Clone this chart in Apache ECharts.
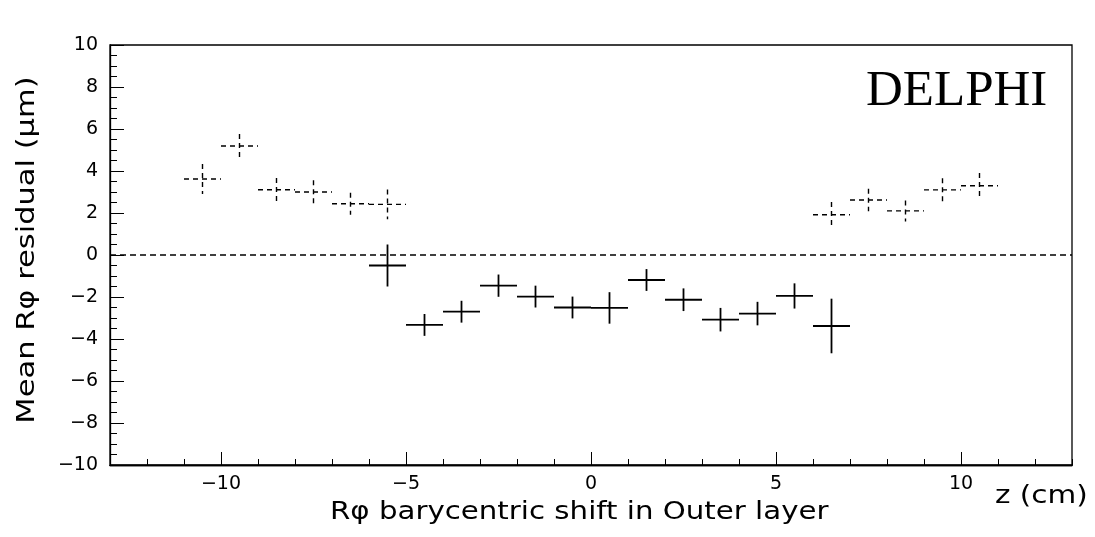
<!DOCTYPE html>
<html>
<head>
<meta charset="utf-8">
<script src="https://cdn.jsdelivr.net/npm/echarts@6/dist/echarts.min.js"></script>
</head>
<body style="margin:0;background:#fff">
<div id="main" style="width:1095px;height:537px"></div>
<script>
// dashed series (outer points)
var dashX = [-10.5, -9.5, -8.5, -7.5, -6.5, -5.5, 6.5, 7.5, 8.5, 9.5, 10.5];
var dashY = [3.62, 5.19, 3.11, 3.0, 2.44, 2.41, 1.92, 2.62, 2.1, 3.1, 3.3];
var dashErr = [0.71, 0.57, 0.56, 0.56, 0.52, 0.71, 0.6, 0.54, 0.5, 0.55, 0.6];
// solid series
var solX = [-5.5, -4.5, -3.5, -2.5, -1.5, -0.5, 0.5, 1.5, 2.5, 3.5, 4.5, 5.5, 6.5];
var solY = [-0.5, -3.33, -2.7, -1.46, -1.98, -2.5, -2.52, -1.19, -2.13, -3.08, -2.79, -1.95, -3.38];
var solErr = [1.0, 0.52, 0.52, 0.53, 0.52, 0.52, 0.75, 0.52, 0.54, 0.56, 0.56, 0.6, 1.3];
var xTicks = [-10, -5, 0, 5, 10];
var halfW = 0.5;

function build(xs, ys, es) {
    var d = [];
    for (var i = 0; i < xs.length; i++) d.push([xs[i], ys[i], es[i]]);
    return d;
}
function crossRender(dashed) {
    return function (params, api) {
        var x = api.value(0), y = api.value(1), e = api.value(2);
        var l = api.coord([x - halfW, y]), r = api.coord([x + halfW, y]);
        var t = api.coord([x, y + e]), b = api.coord([x, y - e]);
        var st = {stroke: '#000', lineWidth: dashed ? 1.4 : 1.8, lineDash: dashed ? [5, 4] : null};
        return {type: 'group', children: [
            {type: 'line', shape: {x1: l[0], y1: l[1], x2: r[0], y2: r[1]}, style: st},
            {type: 'line', shape: {x1: t[0], y1: t[1], x2: b[0], y2: b[1]}, style: st}
        ]};
    };
}
var fmt = function (v) { return String(v).replace('-', '\u2212'); };
var font = 'DejaVu Sans';

var myChart = echarts.init(document.getElementById('main'));
myChart.setOption({
    animation: false,
    grid: {left: 110, right: 23, top: 45, bottom: 72, show: true, borderColor: '#000', borderWidth: 1.3},
    xAxis: [{
        type: 'value', min: -13, max: 13, position: 'bottom',
        axisLine: {onZero: false, lineStyle: {color: '#000', width: 1.3}},
        axisTick: {inside: true, length: 13, customValues: xTicks, lineStyle: {color: '#000'}},
        splitLine: {show: false},
        axisLabel: {color: '#000', fontSize: 19, fontFamily: font, margin: 10, customValues: xTicks, formatter: fmt}
    }, {
        type: 'value', min: -13, max: 13, interval: 1, position: 'bottom', offset: 0,
        axisLine: {onZero: false, lineStyle: {color: '#000', width: 1.3}},
        axisTick: {inside: true, length: 6, lineStyle: {color: '#000'}},
        splitLine: {show: false},
        axisLabel: {show: false}
    }],
    yAxis: {
        type: 'value', min: -10, max: 10, interval: 2,
        axisLine: {onZero: false, lineStyle: {color: '#000', width: 1.3}},
        axisTick: {inside: true, length: 14, lineStyle: {color: '#000'}},
        minorTick: {show: true, splitNumber: 4, length: 7, lineStyle: {color: '#000'}},
        splitLine: {show: false},
        axisLabel: {color: '#000', fontSize: 19, fontFamily: font, margin: 12, formatter: fmt}
    },
    graphic: [
        {type: 'text', left: 866, top: 66, style: {text: 'DELPHI', font: '51px "Liberation Serif"', fill: '#000'}},
        {type: 'text', x: 995, y: 484, scaleX: 1.18, style: {text: 'z (cm)', font: '25px "DejaVu Sans"', fill: '#000'}},
        {type: 'text', x: 330, y: 500, scaleX: 1.17, style: {text: 'R\u03c6 barycentric shift in Outer layer', font: '25px "DejaVu Sans"', fill: '#000'}},
        {type: 'text', x: 27, y: 250, rotation: Math.PI / 2, scaleX: 1.22,
            style: {text: 'Mean R\u03c6 residual (\u03bcm)', font: '25px "DejaVu Sans"', fill: '#000', align: 'center', verticalAlign: 'middle'}}
    ],
    series: [
        {type: 'line', data: [[-13, 0], [13, 0]], symbol: 'none', silent: true,
            lineStyle: {color: '#000', width: 1.3, type: [6, 4]}},
        {type: 'custom', renderItem: crossRender(true), data: build(dashX, dashY, dashErr)},
        {type: 'custom', renderItem: crossRender(false), data: build(solX, solY, solErr)}
    ]
});
</script>
</body>
</html>
